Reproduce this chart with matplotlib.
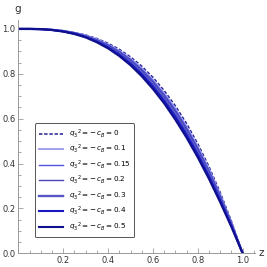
import matplotlib
matplotlib.use("Agg")
import matplotlib.pyplot as plt
from matplotlib.ticker import MultipleLocator

z = [0.0, 0.05, 0.1, 0.15, 0.2, 0.25, 0.3, 0.35, 0.4, 0.45, 0.5, 0.55, 0.6, 0.65,
     0.7, 0.75, 0.8, 0.85, 0.9, 0.95, 1.0]
g_00 = [1.0, 1.0, 0.999, 0.997, 0.992, 0.984, 0.973, 0.957, 0.936, 0.909, 0.875, 0.834,
        0.784, 0.725, 0.657, 0.578, 0.488, 0.386, 0.271, 0.143, 0.0]
g_01 = [1.0, 1.0, 0.999, 0.996, 0.991, 0.983, 0.971, 0.954, 0.931, 0.903, 0.868, 0.825,
        0.774, 0.714, 0.645, 0.565, 0.476, 0.375, 0.262, 0.137, 0.0]
g_015 = [1.0, 1.0, 0.999, 0.996, 0.991, 0.982, 0.970, 0.952, 0.929, 0.900, 0.864, 0.820,
         0.768, 0.708, 0.639, 0.559, 0.470, 0.369, 0.258, 0.135, 0.0]
g_02 = [1.0, 1.0, 0.999, 0.996, 0.990, 0.982, 0.968, 0.950, 0.927, 0.897, 0.860, 0.816,
        0.763, 0.702, 0.632, 0.553, 0.463, 0.364, 0.253, 0.132, 0.0]
g_03 = [1.0, 1.0, 0.999, 0.996, 0.990, 0.980, 0.966, 0.947, 0.922, 0.891, 0.853, 0.807,
        0.753, 0.691, 0.620, 0.540, 0.451, 0.353, 0.245, 0.127, 0.0]
g_04 = [1.0, 1.0, 0.999, 0.995, 0.989, 0.979, 0.964, 0.944, 0.918, 0.885, 0.845, 0.798,
        0.743, 0.679, 0.608, 0.528, 0.439, 0.342, 0.236, 0.122, 0.0]
g_05 = [1.0, 1.0, 0.999, 0.995, 0.988, 0.977, 0.962, 0.940, 0.913, 0.879, 0.838, 0.789,
        0.732, 0.668, 0.595, 0.515, 0.427, 0.331, 0.227, 0.117, 0.0]

params = ["0", "0.1", "0.15", "0.2", "0.3", "0.4", "0.5"]
series = [g_00, g_01, g_015, g_02, g_03, g_04, g_05]
colors = ["#1e1e96", "#a0a0ee", "#5252dc", "#4545b8", "#5555c8", "#1818c4", "#10108c"]
widths = [1.1, 1.4, 1.0, 1.0, 1.7, 1.5, 1.5]
styles = [(0, (2.2, 1.2)), "-", "-", "-", "-", "-", "-"]

fig = plt.figure(figsize=(2.67, 2.67), dpi=100)
ax = fig.add_axes([0.069, 0.0513, 0.886, 0.874])

for p, g, c, w, s in zip(params, series, colors, widths, styles):
    ax.plot(z, g, color=c, lw=w, linestyle=s,
            label=r"$q_3{}^2 = -\,c_B = " + p + "$")

ax.set_xlim(0, 1.055)
ax.set_ylim(0, 1.04)
for side in ["top", "right"]:
    ax.spines[side].set_visible(False)
for side in ["left", "bottom"]:
    ax.spines[side].set_color("#999999")
    ax.spines[side].set_linewidth(0.7)

ax.xaxis.set_minor_locator(MultipleLocator(0.05))
ax.yaxis.set_minor_locator(MultipleLocator(0.05))
ax.set_xticks([0.2, 0.4, 0.6, 0.8, 1.0])
ax.set_xticklabels(["0.2", "0.4", "0.6", "0.8", "1.0"])
ax.set_yticks([0.0, 0.2, 0.4, 0.6, 0.8, 1.0])
ax.set_yticklabels(["0.0", "0.2", "0.4", "0.6", "0.8", "1.0"])
ax.tick_params(which="both", direction="in", color="#999999", width=0.6,
               labelsize=6, labelcolor="#333333", pad=2)
ax.tick_params(which="major", length=3.5)
ax.tick_params(which="minor", length=2)

ax.text(-0.005, 1.09, "g", fontsize=7.5, color="#333333",
        ha="center", va="center", clip_on=False)
ax.text(1.085, 0.0, "z", fontsize=7.5, color="#333333",
        ha="center", va="center", clip_on=False)

leg = ax.legend(loc="lower left", bbox_to_anchor=(0.07, 0.07), fontsize=5.2,
                frameon=True, fancybox=True, handlelength=3.3,
                labelspacing=0.42, borderpad=0.55, handletextpad=0.8,
                borderaxespad=0)
leg.get_frame().set_edgecolor("#555555")
leg.get_frame().set_linewidth(0.7)
leg.get_frame().set_alpha(1)

fig.savefig("out.png", dpi=100)
